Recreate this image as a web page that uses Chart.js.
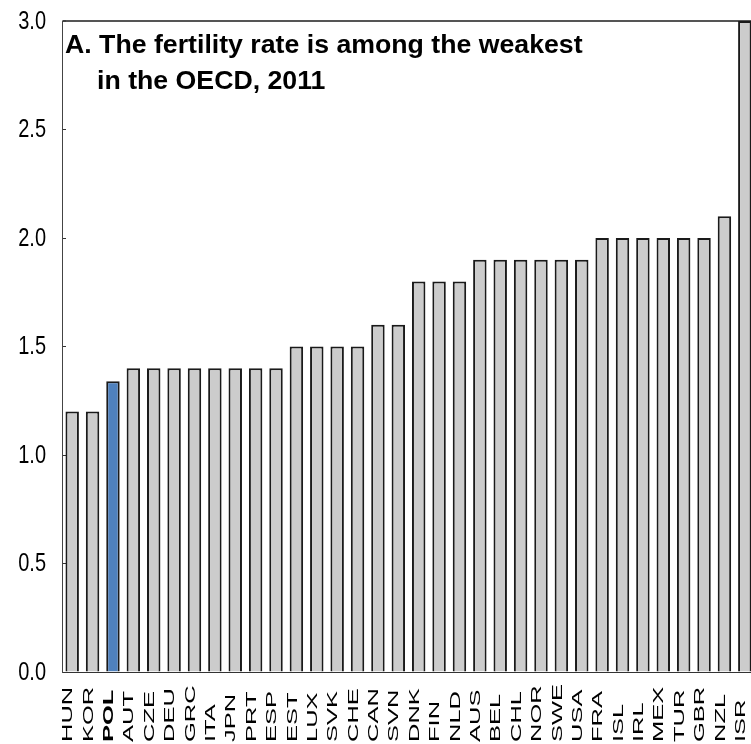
<!DOCTYPE html>
<html>
<head>
<meta charset="utf-8">
<script src="https://cdn.jsdelivr.net/npm/chart.js@4.4.1/dist/chart.umd.min.js"></script>
<style>
    html, body { margin: 0; padding: 0; background: #fff; overflow: hidden; }
    #wrap { position: relative; width: 756px; height: 744px; }
</style>
</head>
<body>
<div id="wrap"><canvas id="fertChart"></canvas></div>
<script>
// OECD fertility rates, 2011
const countries = ['HUN', 'KOR', 'POL', 'AUT', 'CZE', 'DEU', 'GRC', 'ITA', 'JPN', 'PRT', 'ESP',
    'EST', 'LUX', 'SVK', 'CHE', 'CAN', 'SVN', 'DNK', 'FIN', 'NLD', 'AUS', 'BEL', 'CHL', 'NOR',
    'SWE', 'USA', 'FRA', 'ISL', 'IRL', 'MEX', 'TUR', 'GBR', 'NZL', 'ISR'];
const fertility = [1.2, 1.2, 1.34, 1.4, 1.4, 1.4, 1.4, 1.4, 1.4, 1.4, 1.4,
    1.5, 1.5, 1.5, 1.5, 1.6, 1.6, 1.8, 1.8, 1.8, 1.9, 1.9, 1.9, 1.9,
    1.9, 1.9, 2.0, 2.0, 2.0, 2.0, 2.0, 2.0, 2.1, 3.0];
const highlight = 'POL';
const titleLines = ['A. The fertility rate is among the weakest', 'in the OECD, 2011'];
const yMin = 0;
const yMax = 3;
const yStep = 0.5;

const barColors = countries.map(c => c === highlight ? '#4f81bd' : '#cccccc');
const fontFamily = '"Liberation Sans", Arial, sans-serif';

// the source art has squeezed / stretched type, so labels are drawn with a scale
const axisLabelPlugin = {
    id: 'axisLabels',
    afterDraw(chart) {
        const ctx = chart.ctx;
        const xs = chart.scales.x;
        const ys = chart.scales.y;
        ctx.save();
        ctx.fillStyle = '#000';

        // y tick labels, a bit narrow
        ctx.font = '25px ' + fontFamily;
        ctx.textAlign = 'right';
        ctx.textBaseline = 'alphabetic';
        ys.ticks.forEach(t => {
            const py = ys.getPixelForValue(t.value);
            ctx.save();
            ctx.translate(46, py + 7.5);
            ctx.scale(0.8, 1);
            ctx.fillText(t.value.toFixed(1), 0, 0);
            ctx.restore();
        });

        // country codes, rotated and stretched
        countries.forEach((c, i) => {
            const px = xs.getPixelForTick(i) - 4;
            ctx.save();
            ctx.translate(px, 742);
            ctx.rotate(-Math.PI / 2);
            ctx.scale(1.7, 1);
            ctx.font = (c === highlight ? 'bold ' : '') + '15px ' + fontFamily;
            ctx.textAlign = 'left';
            ctx.textBaseline = 'middle';
            ctx.fillText(c, 0, 0);
            ctx.restore();
        });
        ctx.restore();
    }
};

// panel title sits inside the plot area
const panelTitlePlugin = {
    id: 'panelTitle',
    afterDraw(chart) {
        const ctx = chart.ctx;
        const area = chart.chartArea;
        ctx.save();
        ctx.fillStyle = '#000';
        ctx.font = 'bold 26.7px ' + fontFamily;
        ctx.textAlign = 'left';
        ctx.textBaseline = 'alphabetic';
        ctx.fillText(titleLines[0], area.left + 3, 53);
        ctx.fillText(titleLines[1], area.left + 35, 89);
        ctx.restore();
    }
};

const fertCtx = document.getElementById('fertChart').getContext('2d');
new Chart(fertCtx, {
    type: 'bar',
    data: {
        labels: countries,
        datasets: [{
            label: 'Fertility rate',
            data: fertility,
            backgroundColor: barColors,
            borderColor: '#1a1a1a',
            borderWidth: 2,
            barPercentage: 0.66,
            categoryPercentage: 1
        }]
    },
    options: {
        responsive: true,
        maintainAspectRatio: false,
        animation: false,
        layout: { padding: { top: 21, right: 1, left: 0, bottom: 0 } },
        plugins: {
            legend: { display: false },
            tooltip: { enabled: false }
        },
        scales: {
            x: {
                grid: { display: false },
                ticks: { display: false },
                border: { display: true, color: '#333', width: 1 },
                afterFit: scale => { scale.height = 72; }
            },
            y: {
                min: yMin,
                max: yMax,
                ticks: {
                    stepSize: yStep,
                    display: false
                },
                grid: {
                    drawTicks: true,
                    tickLength: -4,
                    tickColor: '#333',
                    tickWidth: 1,
                    color: c => (c.tick && c.tick.value === yMax) ? '#555' : 'transparent',
                    lineWidth: c => (c.tick && c.tick.value === yMax) ? 2 : 1
                },
                border: { display: true, color: '#444', width: 1 },
                afterFit: scale => { scale.width = 62; }
            }
        }
    },
    plugins: [axisLabelPlugin, panelTitlePlugin]
});
</script>
</body>
</html>
